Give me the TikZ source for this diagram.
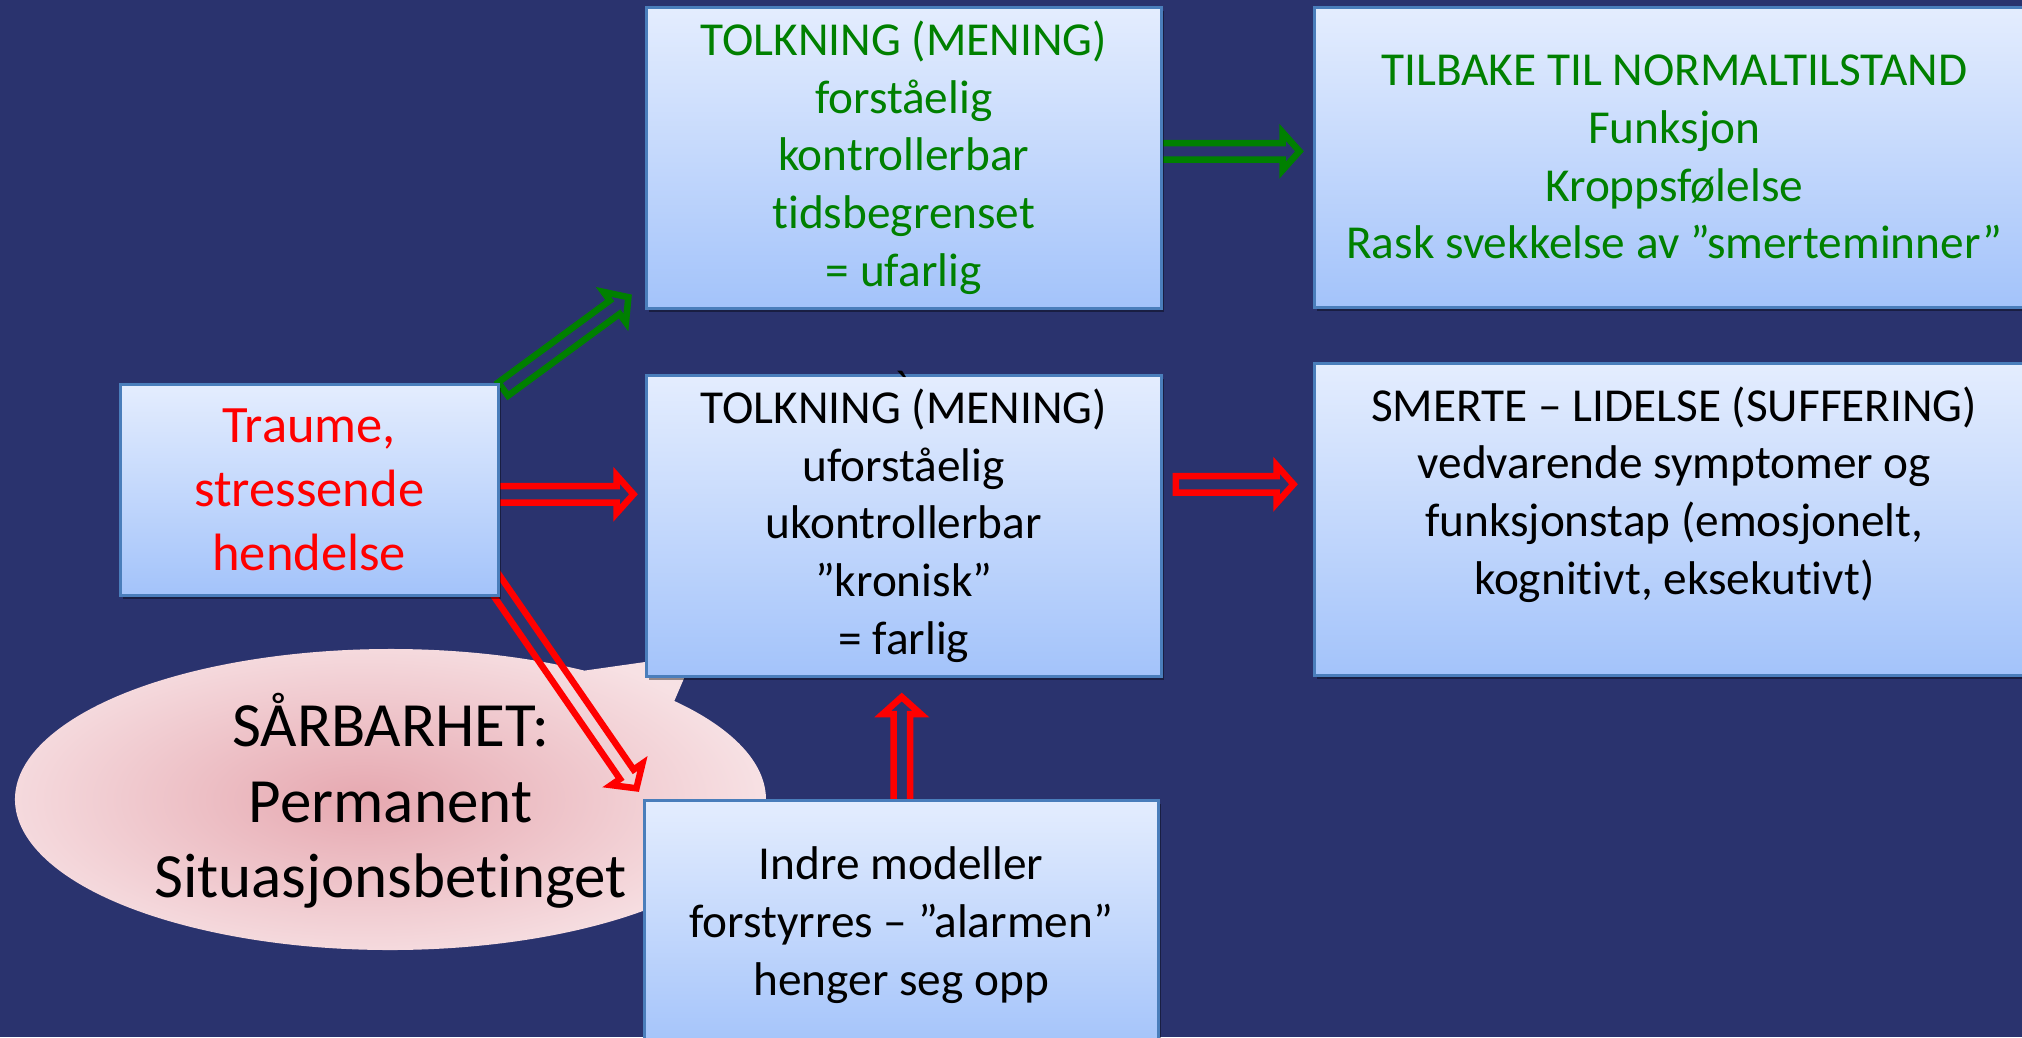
\documentclass[tikz,border=0pt]{standalone}
\usepackage{fontspec}
\setmainfont{Carlito}[Ligatures={NoCommon}]
\usetikzlibrary{calc,shadows,shapes.callouts}
\definecolor{navy}{RGB}{42,51,110}
\definecolor{boxtop}{RGB}{228,237,254}
\definecolor{boxbot}{RGB}{163,195,250}
\definecolor{boxline}{RGB}{74,126,187}
\definecolor{txtgreen}{RGB}{0,128,0}
\definecolor{txtred}{RGB}{255,0,0}
\definecolor{pinkin}{RGB}{230,168,176}
\definecolor{pinkout}{RGB}{247,225,228}
\pgfdeclarelayer{bg}
\pgfdeclarelayer{arrows}
\pgfsetlayers{bg,arrows,main}
\newcommand{\fsbox}{\fontsize{47.3pt}{57.7pt}\selectfont}
\newcommand{\fstraume}{\fontsize{52.5pt}{64pt}\selectfont}
\newcommand{\fsvuln}{\fontsize{63pt}{75.5pt}\selectfont}
% hollow block arrow from #2 (tail) to #3 (tip), colour #1
\newcommand{\blockarrow}[3]{%
  \coordinate (bat) at ($(#3)!4.5pt!(#2)$);
  \coordinate (bas) at ($(#2)!3.25pt!(#3)$);
  \coordinate (bap) at ($(bat)!17pt!(bas)$);
  \draw[hollow, #1] ($(bas)!8.25pt!90:(bat)$) -- ($(bap)!8.25pt!90:(bat)$)
    -- ($(bap)!19pt!90:(bat)$) -- (bat) -- ($(bap)!19pt!-90:(bat)$)
    -- ($(bap)!8.25pt!-90:(bat)$) -- ($(bas)!8.25pt!-90:(bat)$) -- cycle;
}
\begin{document}
\begin{tikzpicture}[x=1pt,y=-1pt,
  box/.style={draw=boxline, line width=2.5pt, top color=boxtop, bottom color=boxbot,
    inner sep=0pt, align=center, font=\fsbox, anchor=north west,
    drop shadow={shadow xshift=3pt, shadow yshift=-4pt, opacity=0.4, fill=black}},
  hollow/.style={line width=6.5pt, line join=miter}]
\useasboundingbox (0,0) rectangle (2022,1037);
\begin{pgfonlayer}{bg}
  \fill[navy] (0,0) rectangle (2022,1037);
  \node[ellipse callout, callout absolute pointer={(694,655)}, callout pointer arc=18,
    minimum width=751pt, minimum height=301pt, inner sep=0pt,
    inner color=pinkin, outer color=pinkout] (vuln) at (390.5,799.5) {};
  \node[font=\fsvuln, align=center, inner sep=0pt] (vulntext) at (390.5,801)
    {SÅRBARHET:\\Permanent\\Situasjonsbetinget};
\end{pgfonlayer}

\node[box, minimum width=378pt, minimum height=211pt, text=txtred, font=\fstraume]
  (traume) at (119,383) {Traume,\\stressende\\hendelse};
\node[box, minimum width=515pt, minimum height=301pt, text=txtgreen]
  (tolk1) at (645,6) {TOLKNING (MENING)\\forståelig\\kontrollerbar\\tidsbegrenset\\= ufarlig};
\node[box, minimum width=720pt, minimum height=300pt, text=txtgreen]
  (normal) at (1313,6) {TILBAKE TIL NORMALTILSTAND\\Funksjon\\Kroppsfølelse\\Rask svekkelse av ”smerteminner”};
\node[box, minimum width=515pt, minimum height=301pt]
  (tolk2) at (645,374) {TOLKNING (MENING)\\uforståelig\\ukontrollerbar\\”kronisk”\\= farlig};
\node[box, minimum width=720pt, minimum height=312pt]
  (smerte) at (1313,362) {SMERTE – LIDELSE (SUFFERING)\\vedvarende symptomer og\\funksjonstap (emosjonelt,\\kognitivt, eksekutivt)\\\mbox{}};
\node[box, minimum width=514pt, minimum height=250pt]
  (indre) at (643,799) {Indre modeller\\forstyrres – ”alarmen”\\henger seg opp};
\node[font=\fsbox, inner sep=0pt, anchor=north] (tick) at (901,370.5) {\textasciigrave};

\begin{pgfonlayer}{arrows}
  \coordinate (g1s) at ($(traume.north east)+(1,8)$);
  \coordinate (g1e) at ($(tolk1.south west)+(-13,-15)$);
  \blockarrow{txtgreen}{g1s}{g1e}
  \coordinate (g2s) at ($(tolk1.east)+(-10,-6.5)$);
  \coordinate (g2e) at ($(normal.west)+(-9,-6)$);
  \blockarrow{txtgreen}{g2s}{g2e}
  \coordinate (r1s) at ($(traume.east)+(-10,4.5)$);
  \coordinate (r1e) at ($(tolk2.west)+(-7,-31.5)$);
  \blockarrow{txtred}{r1s}{r1e}
  \coordinate (r2s) at ($(tolk2.east)+(10,-41.5)$);
  \coordinate (r2e) at ($(smerte.west)+(-15,-35)$);
  \blockarrow{txtred}{r2s}{r2e}
  \coordinate (r3s) at ($(traume.south east)+(-12,-24)$);
  \coordinate (r3e) at ($(indre.north west)+(-4,-7)$);
  \blockarrow{txtred}{r3s}{r3e}
  \coordinate (r4s) at ($(indre.north)+(0.5,12)$);
  \coordinate (r4e) at ($(tolk2.south)+(-2,15)$);
  \blockarrow{txtred}{r4s}{r4e}
\end{pgfonlayer}
\end{tikzpicture}
\end{document}
